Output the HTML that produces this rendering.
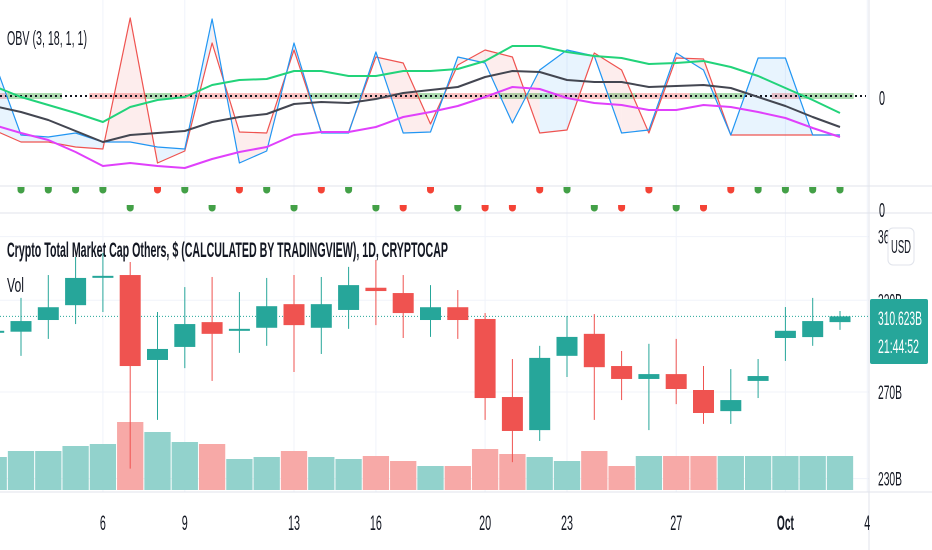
<!DOCTYPE html>
<html><head><meta charset="utf-8"><style>
html,body{margin:0;padding:0;background:#fff;overflow:hidden}
svg{display:block;font-family:"Liberation Sans",sans-serif}
</style></head><body>
<svg id="chart" width="932" height="550" viewBox="0 0 932 550" xmlns="http://www.w3.org/2000/svg"></svg>
<script>
// ---- data ----
const dayLabels = ["6","9","13","16","20","23","27","Oct","4"];
const dayLabelIdx = [4,7,11,14,18,21,25,29,32];
const opens  = [301.9,301.9,308.5,317.1,334.1,335.3,286.5,293.5,307.3,302.4,304.1,317.7,304.1,314.3,327.5,324.3,308.5,315.9,309.1,267.5,251.6,288.7,300.7,283.3,276.6,279.1,271.0,260.6,275.6,298.4,298.9,307.3];
const highs  = [303.0,321.4,335.3,346.7,349.3,343.5,313.1,327.9,334.1,324.9,333.5,335.3,334.1,340.4,344.8,335.3,329.1,326.1,312.5,287.0,294.1,310.8,311.9,291.3,295.2,297.9,283.3,281.7,287.0,316.0,321.4,313.7];
const lows   = [301.5,288.7,297.9,306.2,313.1,234.3,256.4,282.2,275.6,290.3,294.1,280.2,289.7,303.5,305.6,298.4,299.0,297.9,256.4,237.1,246.6,277.6,256.4,266.0,251.6,264.0,254.5,254.5,267.0,286.0,294.1,302.9];
const closes = [302.4,307.9,315.9,333.5,334.8,283.3,292.4,306.2,300.7,303.5,316.5,305.6,317.7,329.1,325.5,312.5,315.9,308.5,267.0,251.2,287.6,299.0,282.7,276.6,279.1,271.5,259.7,266.0,278.1,302.4,307.9,310.6];
const volumes = [33,39,39,44,46,68,58,48,46,31,33,39,33,31,34,29,24,24,41,36,33,29,39,24,34,34,34,34,34,34,34,34];
const priceTicks = [360,320,270,230];
const priceTickLabels = ["360B","320B","270B","230B"];
const lastPrice = 310.623;
const obvGreen   = [10,-1,-9,-17,-26,-11,-4,-1,11,16,17,25,25,20,20,25,25,27,35,50,50,44,40,38,32,33,35,29,20,8,-4,-17];
const obvBlack   = [-10,-16,-24,-35,-46,-39,-37,-35,-26,-21,-18,-8,-6,-7,-3,3,6,9,19,25,24,16,14,14,9,10,11,8,-1,-10,-21,-31];
const obvMagenta = [-29,-37,-44,-56,-70,-67,-70,-72,-63,-56,-51,-39,-36,-36,-31,-21,-16,-10,-1,9,7,-2,-7,-9,-14,-14,-9,-11,-16,-22,-32,-41];
const obvRed     = [-34,-46,-46,-51,-53,78,-67,-55,53,-36,-37,46,-36,-36,39,33,-28,31,46,39,-37,-34,43,26,-37,38,37,-39,-39,-39,-39,-39];
const obvBlue    = [36,-39,-41,-37,-46,-46,-51,-53,77,-67,-55,53,-37,-37,44,-37,-36,39,33,-27,26,46,40,-37,-34,43,26,-39,38,38,-39,-39];
const zeroState  = ["p","g","g","n","p","p","g","p","p","p","p","p","g","g","p","p","g","p","p","g","g","p","p","g","p","p","g","g","n","p","g","g"];
const dotsUpper  = ["n","g","g","g","g","n","r","g","n","r","g","n","r","g","n","n","r","n","n","n","r","g","n","n","r","n","n","r","g","g","g","g"];
const dotsLower  = ["n","n","n","n","n","g","n","n","g","n","n","g","n","n","g","r","n","g","r","r","n","n","g","r","n","g","r","n","n","n","n","n"];

// ---- scales ----
const SVGNS="http://www.w3.org/2000/svg";
const svg=document.getElementById('chart');
const step=27.3;
function xOf(i){return 21+step*(i-1);}
function yPrice(p){return 392-540*Math.log(p/270);}
function yVol(v){return 490-v;}
function yObv(v){return 96-v;}
function mk(tag,attrs,parent){const e=document.createElementNS(SVGNS,tag);for(const k in attrs)e.setAttribute(k,attrs[k]);(parent||svg).appendChild(e);return e;}
const TEAL="#26a69a",RED="#ef5350";

// grid
const grid=mk('g',{});


dayLabelIdx.forEach(i=>{const l=mk('line',{x1:xOf(i),x2:xOf(i),y1:0,y2:492,stroke:'#f0f3fa','stroke-width':1},grid);

});
priceTicks.forEach(p=>{const l=mk('line',{x1:0,x2:869,y1:yPrice(p),y2:yPrice(p),stroke:'#f0f3fa','stroke-width':1},grid);

});

// pane separators
[[0,186,932,186],[0,213,932,213],[0,492,932,492],[869,0,869,550]].forEach(c=>{const l=mk('line',{x1:c[0],y1:c[1],x2:c[2],y2:c[3],stroke:'#e0e3eb','stroke-width':1});

});

// ---- OBV pane ----
const obvG=mk('g',{});


zeroState.forEach((s,i)=>{if(s==='n')return;const r=mk('rect',{x:xOf(i)-13.65,y:93,width:step,height:6,fill:s==='p'?'rgba(239,83,80,0.35)':'rgba(76,175,80,0.45)'},obvG);

});
for(let i=0;i<obvRed.length-1;i++){
  const pts=[[xOf(i),yObv(obvRed[i])],[xOf(i+1),yObv(obvRed[i+1])],[xOf(i+1),yObv(obvBlue[i+1])],[xOf(i),yObv(obvBlue[i])]];
  const d=(obvRed[i]+obvRed[i+1])-(obvBlue[i]+obvBlue[i+1]);
  const f=mk('polygon',{points:pts.map(p=>p.join(',')).join(' '),fill:d>0?'rgba(239,83,80,0.10)':'rgba(33,150,243,0.10)'},obvG);
  
  
}
const zl=mk('line',{x1:0,x2:866,y1:96,y2:96,stroke:'#131722','stroke-width':2,'stroke-dasharray':'2,3'},obvG);


function line(arr,color,w,name){const p=mk('polyline',{points:arr.map((v,i)=>xOf(i)+','+yObv(v)).join(' '),fill:'none',stroke:color,'stroke-width':w,'stroke-linejoin':'round'},obvG);

}
line(obvRed,RED,1.2,'obv-red-line');
line(obvBlue,'#2196f3',1.2,'obv-blue-line');
line(obvMagenta,'#e040fb',2,'obv-magenta-line');
line(obvBlack,'#434651',2,'obv-black-line');
line(obvGreen,'#22d37a',2,'obv-green-line');

function dot(x,y,c){const p=mk('path',{d:`M${x-3.5},${y-4} h7 v3 a3.5,3.5 0 0 1 -7,0 z`,fill:c==='g'?'#43a047':'#f44336'});

}
dotsUpper.forEach((s,i)=>{if(s!=='n')dot(xOf(i),191,s);});
dotsLower.forEach((s,i)=>{if(s!=='n')dot(xOf(i),209,s);});

// ---- volume ----
volumes.forEach((v,i)=>{const up=closes[i]>=opens[i];
const r=mk('rect',{x:xOf(i)-13.15,y:yVol(v),width:step-1,height:490-yVol(v),fill:up?'#92d2cc':'#f7a9a7'});

});

const lp=mk('line',{x1:0,x2:869,y1:yPrice(lastPrice),y2:yPrice(lastPrice),stroke:TEAL,'stroke-width':1,'stroke-dasharray':'1,2'});



// ---- candles ----
opens.forEach((o,i)=>{const c=closes[i],up=c>=o,col=up?TEAL:RED,x=xOf(i);
const w=mk('line',{x1:x,x2:x,y1:yPrice(highs[i]),y2:yPrice(lows[i]),stroke:col,'stroke-width':1});


const top=yPrice(Math.max(o,c)),bot=yPrice(Math.min(o,c));
const b=mk('rect',{x:x-10.5,y:top,width:21,height:Math.max(2,bot-top),fill:col});

});

// ---- text ----
function txt(s,x,y,size,len,attrs){const t=mk('text',Object.assign({x:x,y:y,'font-size':size,fill:'#131722'},attrs||{}));if(len){t.setAttribute('textLength',len);t.setAttribute('lengthAdjust','spacingAndGlyphs');}t.textContent=s;return t;}
let t;
t=txt('OBV (3, 18, 1, 1)',7,45,20,80);


t=txt('Crypto Total Market Cap Others, $ (CALCULATED BY TRADINGVIEW), 1D, CRYPTOCAP',7,257,21,441,{'font-weight':'bold'});


t=txt('Vol',7,292,20,17);


t=txt('0',879,105,20,6);


t=txt('0',879,217,20,6);


dayLabels.forEach((s,k)=>{const len=s==='Oct'?17:(s.length*6);
const tt=txt(s,xOf(dayLabelIdx[k])-len/2,530,21,len,s==='Oct'?{'font-weight':'bold'}:{});

});
priceTicks.forEach((p,k)=>{const tt=txt(priceTickLabels[k],878,yPrice(p)+7,19,24);

});

const pb=mk('rect',{x:870,y:299,width:58,height:65,fill:TEAL,rx:2});


t=txt(lastPrice.toFixed(3)+'B',878,325,19,44,{fill:'#fff'});


t=txt('21:44:52',878,353,19,41,{fill:'#fff'});



const ub=mk('rect',{x:888,y:228,width:26,height:37,rx:5,fill:'#fff',stroke:'#e0e3eb'});


t=txt('USD',891,253,18,20);


</script>
</body></html>
